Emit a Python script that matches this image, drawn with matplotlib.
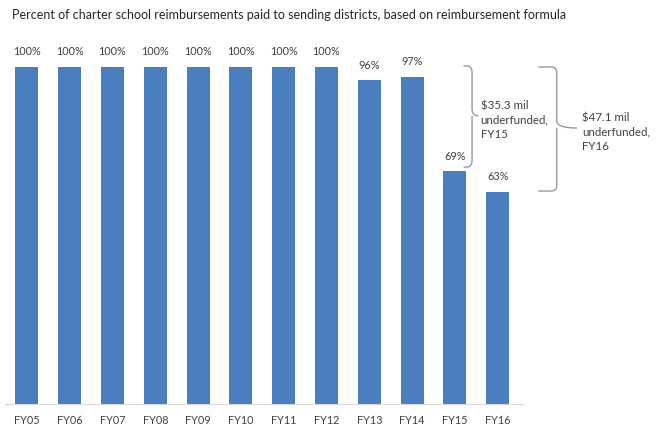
import matplotlib.pyplot as plt
from matplotlib.path import Path
from matplotlib.patches import PathPatch

# data
years = ['FY05', 'FY06', 'FY07', 'FY08', 'FY09', 'FY10', 'FY11', 'FY12', 'FY13', 'FY14', 'FY15', 'FY16']
pct = [100, 100, 100, 100, 100, 100, 100, 100, 96, 97, 69, 63]
notes = ['$35.3 mil\nunderfunded,\nFY15', '$47.1 mil\nunderfunded,\nFY16']

plt.rcParams['font.family'] = ['Lato', 'DejaVu Sans']
txt_col = '#404040'
bar_col = '#4a7ebf'

fig = plt.figure(figsize=(6.67, 4.27), dpi=100)
ax = fig.add_axes([5 / 667, 22 / 427, 518 / 667, 370.7 / 427])

x = list(range(len(years)))
bars = ax.bar(x, pct, width=0.54, color=bar_col)
for xi, v in zip(x, pct):
    ax.text(xi, v + 3.2, f'{v}%', ha='center', va='bottom', fontsize=7.8, color=txt_col)

ax.set_xlim(-0.51, 11.59)
ax.set_ylim(0, 110)
ax.set_xticks(x)
ax.set_xticklabels(years, fontsize=7.8, color=txt_col)
ax.tick_params(axis='x', length=0, pad=7)
ax.set_yticks([])
for s in ['top', 'right', 'left']:
    ax.spines[s].set_visible(False)
ax.spines['bottom'].set_color('#d9d9d9')


def brace(xl, xv, xt, y0, y1, ym):
    # right-facing curly brace: hooks at xl, spine at xv, tip at xt
    r = 0.12
    dy = 2.0
    verts = [(xl, y1), (xv - r, y1), (xv, y1), (xv, y1 - dy),
             (xv, ym + dy), (xv, ym), (xt, ym),
             (xv, ym), (xv, ym - dy),
             (xv, y0 + dy), (xv, y0), (xv - r, y0), (xl, y0)]
    codes = [Path.MOVETO, Path.LINETO, Path.CURVE3, Path.CURVE3,
             Path.LINETO, Path.CURVE3, Path.CURVE3,
             Path.MOVETO, Path.LINETO,
             Path.LINETO, Path.CURVE3, Path.CURVE3, Path.LINETO]
    ax.add_patch(PathPatch(Path(verts, codes), fill=False, edgecolor='#9a9a9a',
                           lw=1.0, clip_on=False))


brace(10.2, 10.4, 10.55, 70.3, 100.3, 85.5)
brace(11.95, 12.38, 12.85, 63.2, 100.0, 81.9)

ax.text(10.6, 84.5, notes[0], ha='left', va='center', fontsize=8.3, color=txt_col, linespacing=1.35)
ax.text(12.97, 81.0, notes[1], ha='left', va='center', fontsize=8.3, color=txt_col, linespacing=1.35)

fig.text(12 / 667, 1 - 15 / 427, 'Percent of charter school reimbursements paid to sending districts, based on reimbursement formula',
         ha='left', va='center', fontsize=9, color='#262626')

fig.savefig('out.png', dpi=100)
